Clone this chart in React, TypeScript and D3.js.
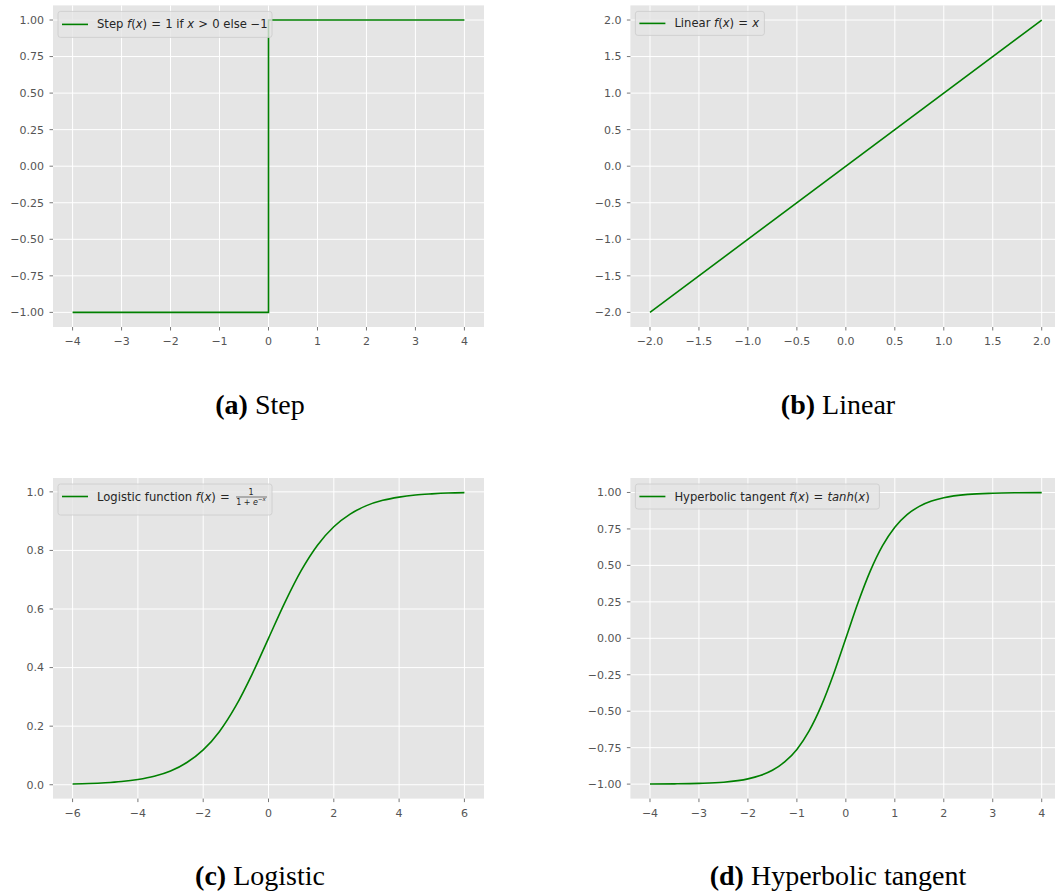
import React from "react";
import * as d3 from "d3";

// step and linear: the corner points
const stepX = [-4, 0, 0, 4];
const stepY = [-1, -1, 1, 1];
const linearX = [-2, 2];
const linearY = [-2, 2];

// logistic, read every 0.5 from -6 to 6
const logisticX = [-6, -5.5, -5, -4.5, -4, -3.5, -3, -2.5, -2, -1.5, -1, -0.5, 0, 0.5, 1, 1.5, 2, 2.5, 3, 3.5, 4, 4.5, 5, 5.5, 6];
const logisticY = [0.0025, 0.004, 0.0067, 0.011, 0.018, 0.029, 0.047, 0.076, 0.119, 0.182, 0.269, 0.378, 0.5, 0.622, 0.731, 0.818, 0.881, 0.924, 0.953, 0.971, 0.982, 0.989, 0.993, 0.996, 0.9975];

// tanh, read every 0.25 near the middle
const tanhX = [-4, -3.5, -3, -2.5, -2, -1.75, -1.5, -1.25, -1, -0.75, -0.5, -0.25, 0, 0.25, 0.5, 0.75, 1, 1.25, 1.5, 1.75, 2, 2.5, 3, 3.5, 4];
const tanhY = [-0.999, -0.998, -0.995, -0.987, -0.964, -0.941, -0.905, -0.848, -0.762, -0.635, -0.462, -0.245, 0, 0.245, 0.462, 0.635, 0.762, 0.848, 0.905, 0.941, 0.964, 0.987, 0.995, 0.998, 0.999];

const ticksA = [-4, -3, -2, -1, 0, 1, 2, 3, 4];
const ticksB = [-2, -1.5, -1, -0.5, 0, 0.5, 1, 1.5, 2];
const ticksC = [-6, -4, -2, 0, 2, 4, 6];
const ticksQuarter = [-1, -0.75, -0.5, -0.25, 0, 0.25, 0.5, 0.75, 1];
const ticksFifth = [0, 0.2, 0.4, 0.6, 0.8, 1];

const captions = [
  { tag: "(a)", name: "Step" },
  { tag: "(b)", name: "Linear" },
  { tag: "(c)", name: "Logistic" },
  { tag: "(d)", name: "Hyperbolic tangent" },
];

const BG = "#e5e5e5";
const TICK = "#555555";
const GREEN = "#008000";
const FONT = "DejaVu Sans";
const LEG_FS = 11.6;

const I = ({ children }: any) => <tspan fontStyle="italic">{children}</tspan>;
// a little extra room around relations, like mathtext
const Rel = ({ children }: any) => (
  <>
    <tspan dx={0.5}>{children}</tspan>
    <tspan dx={0.5}> </tspan>
  </>
);

const legends = [
  {
    w: 214, h: 26,
    label: (
      <>
        Step <I>f</I>(<I>x</I>) <Rel>=</Rel>1 if <I>x</I> <Rel>{">"}</Rel>0 else −1
      </>
    ),
  },
  { w: 129, h: 24, label: (<>Linear <I>f</I>(<I>x</I>) <Rel>=</Rel><I>x</I></>) },
  { w: 214, h: 31, label: null },
  { w: 244, h: 25, label: (<>Hyperbolic tangent <I>f</I>(<I>x</I>) <Rel>=</Rel><I>tanh</I>(<I>x</I>)</>) },
];

type Panel = {
  left: number; right: number; top: number; bottom: number;
  xd: [number, number]; yd: [number, number];
  xt: number[]; yt: number[]; yf: string;
  xs: number[]; ys: number[]; smooth: boolean;
};

const panels: Panel[] = [
  { left: 53, right: 484, top: 5.4, bottom: 327, xd: [-4.4, 4.4], yd: [-1.1, 1.1], xt: ticksA, yt: ticksQuarter, yf: ".2f", xs: stepX, ys: stepY, smooth: false },
  { left: 630.4, right: 1061.3, top: 5.4, bottom: 327, xd: [-2.2, 2.2], yd: [-2.2, 2.2], xt: ticksB, yt: ticksB, yf: ".1f", xs: linearX, ys: linearY, smooth: false },
  { left: 53, right: 484, top: 478, bottom: 798.6, xd: [-6.6, 6.6], yd: [-0.0473, 1.0473], xt: ticksC, yt: ticksFifth, yf: ".1f", xs: logisticX, ys: logisticY, smooth: true },
  { left: 630.4, right: 1061.3, top: 478, bottom: 798.6, xd: [-4.4, 4.4], yd: [-1.0993, 1.0993], xt: ticksA, yt: ticksQuarter, yf: ".2f", xs: tanhX, ys: tanhY, smooth: true },
];

const captionPos = [
  { x: 260, y: 414 },
  { x: 838, y: 414 },
  { x: 260, y: 885 },
  { x: 838, y: 885 },
];

function Chart({ p, i }: { p: Panel; i: number }) {
  const x = d3.scaleLinear().domain(p.xd).range([p.left, p.right]);
  const y = d3.scaleLinear().domain(p.yd).range([p.bottom, p.top]);
  const xf = d3.format(p.xt.some((v) => v % 1 !== 0) ? ".1f" : "d");
  const yf = d3.format(p.yf);
  const pts = p.xs.map((v, k) => [v, p.ys[k]] as [number, number]);
  const line = d3
    .line<[number, number]>()
    .x((d) => x(d[0]))
    .y((d) => y(d[1]))
    .curve(p.smooth ? d3.curveMonotoneX : d3.curveLinear);
  const lg = legends[i];
  const lx = p.left + 5;
  const ly = p.top + 6;
  const cy = ly + lg.h / 2;
  return (
    <g>
      <rect x={p.left} y={p.top} width={p.right - p.left} height={p.bottom - p.top} fill={BG} />
      {p.xt.map((t) => (
        <line key={"gx" + t} x1={x(t)} x2={x(t)} y1={p.top} y2={p.bottom} stroke="#fff" strokeWidth={1} />
      ))}
      {p.yt.map((t) => (
        <line key={"gy" + t} x1={p.left} x2={p.right} y1={y(t)} y2={y(t)} stroke="#fff" strokeWidth={1} />
      ))}
      {p.xt.map((t) => (
        <g key={"tx" + t}>
          <line x1={x(t)} x2={x(t)} y1={p.bottom} y2={p.bottom + 3.5} stroke={TICK} strokeWidth={0.8} />
          <text x={x(t)} y={p.bottom + 18} textAnchor="middle" fontSize={11} fill={TICK} fontFamily={FONT}>
            {xf(t)}
          </text>
        </g>
      ))}
      {p.yt.map((t) => (
        <g key={"ty" + t}>
          <line x1={p.left - 3.5} x2={p.left} y1={y(t)} y2={y(t)} stroke={TICK} strokeWidth={0.8} />
          <text x={p.left - 9} y={y(t)} dy="0.35em" textAnchor="end" fontSize={11} fill={TICK} fontFamily={FONT}>
            {yf(t)}
          </text>
        </g>
      ))}
      <path d={line(pts) || ""} fill="none" stroke={GREEN} strokeWidth={1.6} />
      <rect x={lx} y={ly} width={lg.w} height={lg.h} rx={2.5} fill={BG} fillOpacity={0.8} stroke="#cccccc" strokeWidth={0.8} />
      {lg.label ? (
        <>
          <line x1={lx + 4} x2={lx + 30} y1={cy} y2={cy} stroke={GREEN} strokeWidth={1.6} />
          <text x={lx + 39} y={cy} dy="0.35em" fontSize={LEG_FS} fill="#262626" fontFamily={FONT}>
            {lg.label}
          </text>
        </>
      ) : (
        <g fontFamily={FONT} fill="#262626">
          <line x1={lx + 4} x2={lx + 30} y1={cy - 3} y2={cy - 3} stroke={GREEN} strokeWidth={1.6} />
          <text x={lx + 39} y={cy + 1} fontSize={LEG_FS}>
            Logistic function <I>f</I>(<I>x</I>) <Rel>=</Rel>
          </text>
          <text x={lx + 193} y={cy - 4.5} textAnchor="middle" fontSize={8}>1</text>
          <line x1={lx + 178} x2={lx + 209} y1={cy - 2.5} y2={cy - 2.5} stroke="#262626" strokeWidth={0.6} />
          <text x={lx + 193} y={cy + 5} textAnchor="middle" fontSize={8}>
            1 + <I>e</I>
            <tspan fontSize={5.5} dy={-3.5}>−<I>x</I></tspan>
          </text>
        </g>
      )}
      <text
        x={captionPos[i].x}
        y={captionPos[i].y}
        textAnchor="middle"
        fontSize={28}
        fontFamily="Liberation Serif"
        fill="#000"
      >
        <tspan fontWeight="bold">{captions[i].tag}</tspan> {captions[i].name}
      </text>
    </g>
  );
}

export default function App() {
  return (
    <svg
      width={1055}
      height={895}
      style={{ position: "absolute", left: 0, top: 0, background: "#fff" }}
    >
      {panels.map((p, i) => (
        <Chart key={i} p={p} i={i} />
      ))}
    </svg>
  );
}
